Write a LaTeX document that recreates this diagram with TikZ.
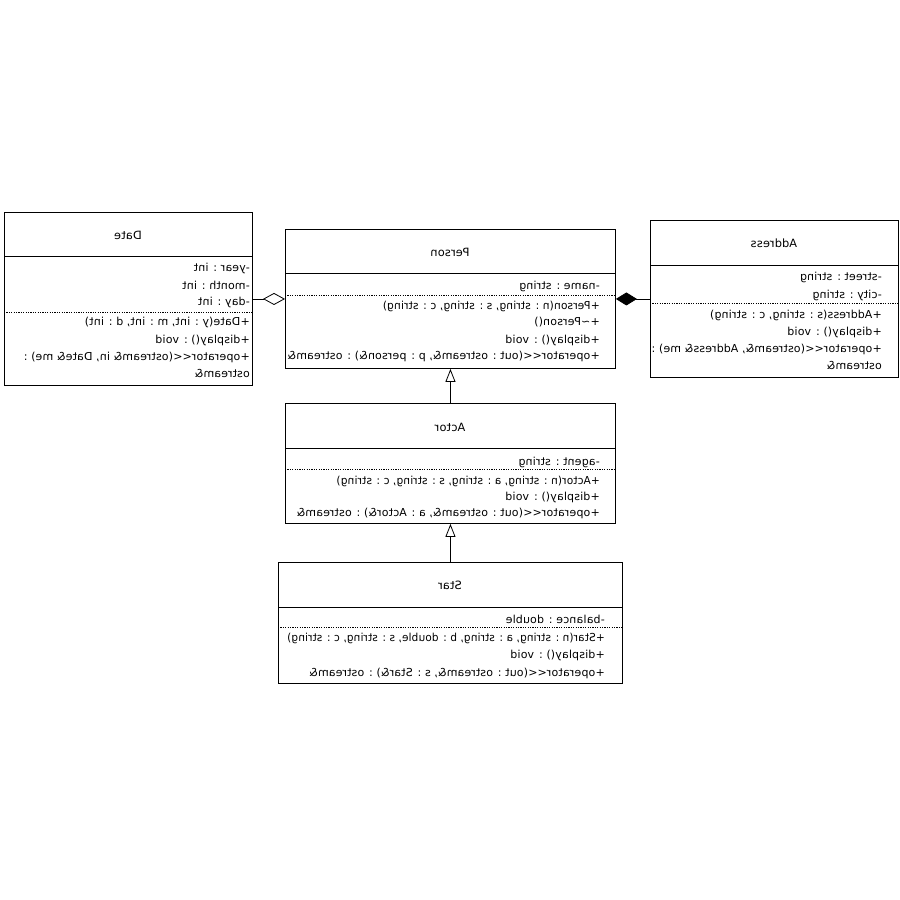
\documentclass[tikz,border=0pt]{standalone}
\usepackage{fontspec}
\usepackage{graphicx}
\setmainfont[LetterSpace=1.5]{DejaVu Sans}
\usetikzlibrary{arrows.meta}
\newcommand{\mr}[1]{\reflectbox{#1}}
\newcommand{\opll}{<\kern0pt<}
\begin{document}
\begin{tikzpicture}[x=1pt,y=-1pt,
  box/.style={draw, line width=0.9pt, rectangle, inner sep=0pt, anchor=north west},
  txt/.style={anchor=east, inner sep=0pt, font=\fontsize{11}{13}\selectfont},
  ttl/.style={anchor=center, inner sep=0pt, font=\fontsize{11.4}{13}\selectfont},
  sep/.style={line width=0.9pt},
  dsep/.style={line width=0.7pt, dash pattern=on 1.2pt off 1.2pt},
  conn/.style={line width=0.8pt}]
\useasboundingbox[fill=white] (0,0) rectangle (900,900);

% Date
\node[box, minimum width=248pt, minimum height=173pt] (date) at (4,212) {};
\draw[sep] (4,256) -- (252,256);
\draw[dsep] (4,312) -- (252,312);
\node[ttl] (dt) at (128,235) {\mr{Date}};
\node[txt] (d1) at (250,268) {\mr{-year : int}};
\node[txt] (d2) at (250,285) {\mr{-month : int}};
\node[txt] (d3) at (250,302) {\mr{-day : int}};
\node[txt] (d4) at (250,322) {\mr{+Date(y : int, m : int, d : int)}};
\node[txt] (d5) at (250,340) {\mr{+display() : void}};
\node[txt] (d6) at (250,357) {\mr{+operator\opll(ostream\& in, Date\& me) :}};
\node[txt] (d7) at (250,373) {\mr{ostream\&}};

% Person
\node[box, minimum width=330pt, minimum height=139pt] (person) at (285,229) {};
\draw[sep] (285,273) -- (615,273);
\draw[dsep] (285,295) -- (615,295);
\node[ttl] (pt) at (450,252) {\mr{Person}};
\node[txt] (p1) at (600,286) {\mr{-name : string}};
\node[txt] (p2) at (600,306) {\mr{\scalebox{0.97}[1]{+Person(n : string, s : string, c : string)}}};
\node[txt] (p3) at (600,322) {\mr{+\textasciitilde Person()}};
\node[txt] (p4) at (600,340) {\mr{+display() : void}};
\node[txt] (p5) at (600,356) {\mr{+operator\opll(out : ostream\&, p : person\&) : ostream\&}};

% Address
\node[box, minimum width=248pt, minimum height=157pt] (address) at (650,220) {};
\draw[sep] (650,265) -- (898,265);
\draw[dsep] (650,303) -- (898,303);
\node[ttl] (at) at (774,243) {\mr{Address}};
\node[txt] (a1) at (882,277) {\mr{-street : string}};
\node[txt] (a2) at (882,295) {\mr{-city : string}};
\node[txt] (a3) at (882,315) {\mr{+Address(s : string, c : string)}};
\node[txt] (a4) at (882,332) {\mr{+display() : void}};
\node[txt] (a5) at (882,349) {\mr{+operator\opll(ostream\&, Address\& me) :}};
\node[txt] (a6) at (882,365) {\mr{ostream\&}};

% Actor
\node[box, minimum width=330pt, minimum height=120pt] (actor) at (285,403) {};
\draw[sep] (285,448) -- (615,448);
\draw[dsep] (285,469) -- (615,469);
\node[ttl] (ct) at (450,427) {\mr{Actor}};
\node[txt] (c1) at (600,462) {\mr{-agent : string}};
\node[txt] (c2) at (600,481) {\mr{\scalebox{0.96}[1]{+Actor(n : string, a : string, s : string, c : string)}}};
\node[txt] (c3) at (600,497) {\mr{+display() : void}};
\node[txt] (c4) at (600,513) {\mr{+operator\opll(out : ostream\&, a : Actor\&) : ostream\&}};

% Star
\node[box, minimum width=344pt, minimum height=121pt] (star) at (278,562) {};
\draw[sep] (278,607) -- (622,607);
\draw[dsep] (278,627) -- (622,627);
\node[ttl] (st) at (450,585) {\mr{Star}};
\node[txt] (s1) at (605,619) {\mr{-balance : double}};
\node[txt] (s2) at (605,638) {\mr{\scalebox{0.955}[1]{+Star(n : string, a : string, b : double, s : string, c : string)}}};
\node[txt] (s3) at (605,655) {\mr{+display() : void}};
\node[txt] (s4) at (605,673) {\mr{+operator\opll(out : ostream\&, s : Star\&) : ostream\&}};

% connectors
\draw[conn, -{Diamond[open, length=22pt, width=12pt, line width=0.8pt]}] (date.east) -- (person.west);
\draw[conn, -{Diamond[length=21pt, width=13pt]}] (address.west) -- (person.east);
\draw[conn, -{Triangle[open, length=13pt, width=10pt, line width=0.8pt]}] (actor.north) -- (person.south);
\draw[conn, -{Triangle[open, length=13pt, width=10pt, line width=0.8pt]}] (star.north) -- (actor.south);
\end{tikzpicture}
\end{document}
